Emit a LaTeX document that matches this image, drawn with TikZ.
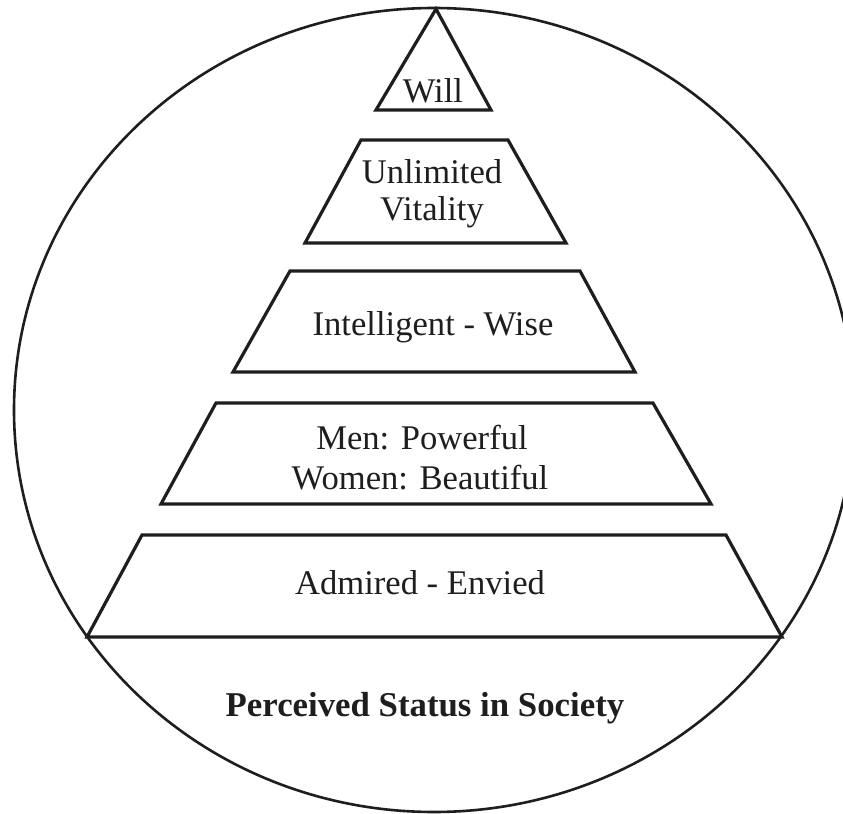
\documentclass[tikz,border=0pt]{standalone}
\usepackage{fontspec}
\setmainfont{Liberation Serif}
\definecolor{ink}{HTML}{1E1E1E}
\begin{document}
\begin{tikzpicture}[x=0.5pt,y=-0.5pt,
  tier/.style={draw=ink,line width=1.6pt,line join=miter},
  lbl/.style={anchor=base,inner sep=0pt,text=ink,font=\fontsize{17.3}{20}\selectfont},
  ttl/.style={anchor=base,inner sep=0pt,text=ink,font=\fontsize{17.4}{20}\selectfont\bfseries}]
\useasboundingbox (0,0) rectangle (843,814);
\clip (0,0) rectangle (843,814);
\fill[white] (0,0) rectangle (843,814);
% outer circle
\draw[ink,line width=1.3pt] (434,410) ellipse [x radius=210pt,y radius=201pt];
% tiers
\draw[tier] (436,9) -- (491,110) -- (376,110) -- cycle;
\draw[tier] (361,140) -- (508,140) -- (566,243) -- (305,243) -- cycle;
\draw[tier] (290,271) -- (580,271) -- (635,372) -- (233,372) -- cycle;
\draw[tier] (216,403) -- (653,403) -- (711,504) -- (161,504) -- cycle;
\draw[tier] (142,535) -- (726,535) -- (782,637) -- (87,637) -- cycle;
% labels
\node[lbl] (will) at (433,102) {Will};
\node[lbl] (vitA) at (432,183) {Unlimited};
\node[lbl] (vitB) at (432,220) {Vitality};
\node[lbl] (wise) at (433,335) {Intelligent - Wise};
\node[lbl] (menA) at (422,449) {Men: Powerful};
\node[lbl] (menB) at (420,489) {Women: Beautiful};
\node[lbl] (admi) at (420,594) {Admired - Envied};
\node[ttl] (title) at (425,716) {Perceived Status in Society};
\end{tikzpicture}
\end{document}
